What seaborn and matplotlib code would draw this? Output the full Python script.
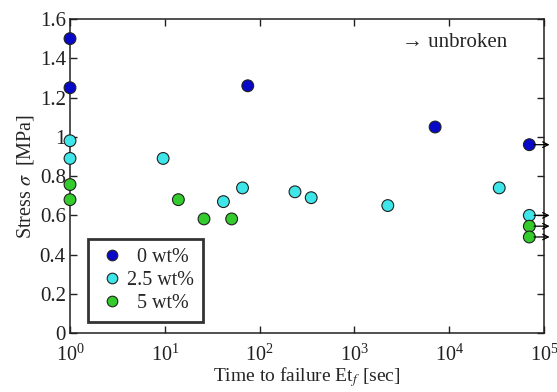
import pandas as pd
import numpy as np
import matplotlib
matplotlib.use('Agg')
import matplotlib.pyplot as plt
import seaborn as sns

# values
time_0 = [1, 1, 75, 7100, 70000]
stress_0 = [1.50, 1.25, 1.26, 1.05, 0.96]
time_25 = [1, 1, 9.6, 41.5, 66, 236, 350, 2250, 33700, 70000]
stress_25 = [0.98, 0.89, 0.89, 0.67, 0.74, 0.72, 0.69, 0.65, 0.74, 0.60]
time_5 = [1, 1, 13.9, 25.9, 50.7, 70000, 70000]
stress_5 = [0.757, 0.68, 0.68, 0.582, 0.582, 0.545, 0.49]
groups = ["0 wt%", "2.5 wt%", "5 wt%"]
colors = ["#0808c8", "#3ee6ea", "#34cc2c"]

# unbroken specimens (stopped at end of test)
unbroken_time = [70000, 70000, 70000, 70000]
unbroken_stress = [0.96, 0.60, 0.545, 0.49]

df = pd.DataFrame({
    "time": time_0 + time_25 + time_5,
    "stress": stress_0 + stress_25 + stress_5,
    "group": [groups[0]] * len(time_0) + [groups[1]] * len(time_25) + [groups[2]] * len(time_5),
})

sns.set_style("ticks")
plt.rcParams['font.family'] = ['Liberation Serif', 'DejaVu Serif']
plt.rcParams['mathtext.fontset'] = 'stix'

fig = plt.figure(figsize=(5.57, 3.92), dpi=100)
ax = fig.add_axes([0.1257, 0.150, 0.851, 0.8015])

sns.scatterplot(data=df, x="time", y="stress", hue="group", hue_order=groups,
                palette=colors, s=72, edgecolor="#202020", linewidth=0.8,
                ax=ax, clip_on=False, zorder=3)

for t, s in zip(unbroken_time, unbroken_stress):
    ax.annotate("", xy=(t * 1.75, s), xytext=(t * 1.05, s),
                xycoords="data", annotation_clip=False,
                arrowprops=dict(arrowstyle="->", color="black", lw=0.9))

ax.text(0.70, 0.925, "→ unbroken", transform=ax.transAxes, fontsize=15,
        ha="left", va="center")

ax.set_xscale("log")
ax.set_xlim(1, 1e5)
ax.set_ylim(0, 1.6)
ax.set_yticks(np.arange(0, 1.61, 0.2))
ax.set_yticklabels(["0", "0.2", "0.4", "0.6", "0.8", "1", "1.2", "1.4", "1.6"])
ax.minorticks_off()
ax.tick_params(direction="in", top=True, right=True, length=5, width=1,
               labelsize=15, pad=3, colors="#202020")
ax.tick_params(axis="x", pad=8.5, labelsize=14.5)
for sp in ax.spines.values():
    sp.set_linewidth(1.1)
    sp.set_color("#202020")

ax.set_xlabel("Time to failure Et$_f$ [sec]", fontsize=14, labelpad=-1)
ax.set_ylabel("Stress $\\sigma$  [MPa]", fontsize=14.5, labelpad=3)

labels_padded = ["  0 wt%", "2.5 wt%", "  5 wt%"]
handles, _ = ax.get_legend_handles_labels()
leg = ax.legend(handles, labels_padded, loc="lower left",
                bbox_to_anchor=(0.038, 0.035), fontsize=14.5,
                frameon=True, fancybox=False, edgecolor="black",
                handletextpad=0.0, borderpad=0.45, labelspacing=0.2,
                handlelength=1.5, borderaxespad=0, markerscale=0.9)
leg.get_frame().set_linewidth(2)

fig.savefig("out.png", dpi=100)
